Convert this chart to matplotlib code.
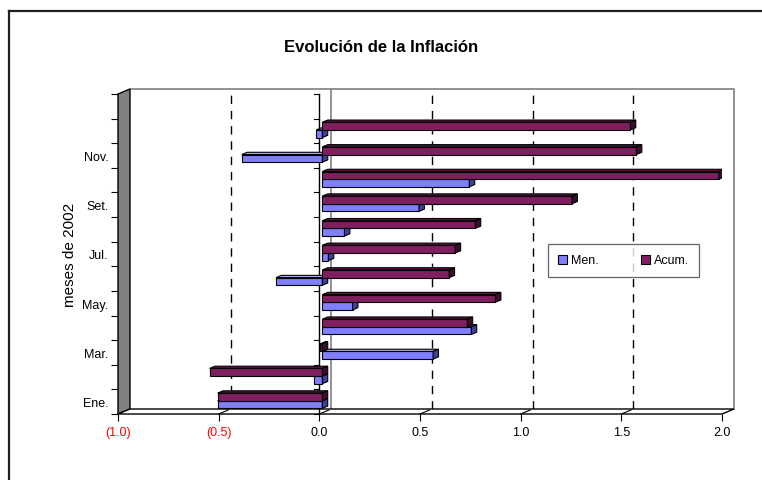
import matplotlib.pyplot as plt
from matplotlib.patches import Polygon, Patch
from matplotlib.lines import Line2D

plt.rcParams['font.family'] = ['Liberation Sans', 'DejaVu Sans']

# --- Datos ---
meses = ["Ene.", "Feb.", "Mar.", "Abr.", "May.", "Jun.", "Jul.", "Ago.", "Set.", "Oct.", "Nov.", "Dic."]
mensual = [-0.52, -0.04, 0.55, 0.74, 0.15, -0.23, 0.03, 0.11, 0.48, 0.73, -0.40, -0.03]
acumulada = [-0.52, -0.56, -0.01, 0.72, 0.86, 0.63, 0.66, 0.76, 1.24, 1.97, 1.56, 1.53]
xticks = [-1.0, -0.5, 0.0, 0.5, 1.0, 1.5, 2.0]
xticklabels = ["(1.0)", "(0.5)", "0.0", "0.5", "1.0", "1.5", "2.0"]
n_slots = len(meses) + 1  # una fila vacia arriba

c_men = ("#8080FF", "#A8A8F0", "#404098")    # frente, techo, lado
c_acum = ("#801F5F", "#5A1442", "#3C0C2C")

W, H = 762, 481
fig = plt.figure(figsize=(W / 100, H / 100), dpi=100)
ax = fig.add_axes([118 / W, (H - 415) / H, 604 / W, 320 / H])
ax.set_xlim(-1, 2)
ax.set_ylim(-0.5, n_slots - 0.5)
for s in ax.spines.values():
    s.set_visible(False)
ax.patch.set_visible(False)

# pixeles -> datos
px = 3 / 604
py = n_slots / 320
ddx, ddy = 12 * px, 5 * py          # profundidad del grafico
x0, x1 = -1, 2
y0, y1 = -0.5, n_slots - 0.5

# pared del fondo
ax.add_patch(Polygon([(x0 + ddx, y0 + ddy), (x1 + ddx, y0 + ddy), (x1 + ddx, y1 + ddy), (x0 + ddx, y1 + ddy)],
                     closed=True, facecolor="white", edgecolor="none", zorder=0, clip_on=False))
ax.plot([x0 + ddx, x1 + ddx, x1 + ddx], [y1 + ddy, y1 + ddy, y0 + ddy], color="#808080", lw=1.2,
        zorder=1, clip_on=False)
for xv in xticks[1:-1]:
    if xv == 0:
        ax.plot([xv + ddx, xv + ddx], [y0 + ddy, y1 + ddy], color="#808080", lw=1.2, zorder=1, clip_on=False)
    else:
        ax.plot([xv + ddx, xv + ddx], [y0 + ddy, y1 + ddy], color="black", lw=1.0, ls=(0, (6, 5)),
                zorder=1, clip_on=False)

# pared izquierda
ax.add_patch(Polygon([(x0, y0), (x0 + ddx, y0 + ddy), (x0 + ddx, y1 + ddy), (x0, y1)], closed=True,
                     facecolor="#808080", edgecolor="black", lw=1.0, zorder=2, clip_on=False))
# piso
ax.add_patch(Polygon([(x0, y0), (x1, y0), (x1 + ddx, y0 + ddy), (x0 + ddx, y0 + ddy)], closed=True,
                     facecolor="white", edgecolor="black", lw=1.0, zorder=2, clip_on=False))
for xv in xticks[1:-1]:
    ax.plot([xv, xv + 0.8 * ddx], [y0, y0 + 0.8 * ddy], color="black", lw=0.8, zorder=2, clip_on=False)

# eje de categorias en 0
ax.plot([0, 0], [y0, y1], color="black", lw=1.0, zorder=2.5, clip_on=False)
for k in range(n_slots + 1):
    ax.plot([0 - 5 * px, 0], [y0 + k, y0 + k], color="black", lw=0.8, zorder=2.5, clip_on=False)

# barras 3D
ox, oy = 0.25 * ddx, 0.25 * ddy
bdx, bdy = 0.45 * ddx, 0.45 * ddy
h = 0.31


def barra(v, yb, cols, z):
    a, b = min(0, v) + ox, max(0, v) + ox
    yb = yb + oy
    yt = yb + h
    ax.barh(yb + h / 2, b - a, left=a, height=h, color=cols[0], edgecolor="black", lw=0.8, zorder=z)
    ax.add_patch(Polygon([(a, yt), (b, yt), (b + bdx, yt + bdy), (a + bdx, yt + bdy)], closed=True,
                         facecolor=cols[1], edgecolor="black", lw=0.8, zorder=z))
    ax.add_patch(Polygon([(b, yb), (b + bdx, yb + bdy), (b + bdx, yt + bdy), (b, yt)], closed=True,
                         facecolor=cols[2], edgecolor="black", lw=0.8, zorder=z))


for i in range(len(meses)):
    barra(mensual[i], i - 0.32, c_men, 3 + 2 * (len(meses) - i))
    barra(acumulada[i], i - 0.01, c_acum, 4 + 2 * (len(meses) - i))

# ejes y etiquetas
ax.set_xticks(xticks)
ax.set_xticklabels(xticklabels, fontsize=9)
for lab, xv in zip(ax.get_xticklabels(), xticks):
    lab.set_color("#FF0000" if xv < 0 else "black")
ax.tick_params(axis="x", length=5, width=0.8, pad=4, direction="out")

ax.set_yticks(range(len(meses)))
ax.set_yticklabels([m if i % 2 == 0 else "" for i, m in enumerate(meses)], fontsize=9)
ax.set_yticks([y0 + k for k in range(n_slots + 1)], minor=True)
ax.tick_params(axis="y", which="major", length=0, pad=7)
ax.tick_params(axis="y", which="minor", length=5, width=0.8, direction="out")

fig.text(70 / W, 1 - 255 / H, "meses de 2002", rotation=90, ha="center", va="center", fontsize=11)
fig.text(381 / W, 1 - 48 / H, "Evolución de la Inflación", ha="center", va="center",
         fontsize=12, fontweight="bold")

handles = [Patch(facecolor=c_men[0], edgecolor="black", lw=0.8, label="Men."),
           Patch(facecolor=c_acum[0], edgecolor="black", lw=0.8, label="Acum.")]
leg = fig.legend(handles=handles, loc="center", bbox_to_anchor=(623.5 / W, 1 - 261.5 / H), ncol=2,
                 fontsize=9, frameon=True, fancybox=False, edgecolor="#404040", handlelength=0.7,
                 handleheight=0.7, handletextpad=0.3, columnspacing=3.4, borderpad=0.85,
                 borderaxespad=0)
leg.get_frame().set_linewidth(0.9)

# marco exterior
fig.add_artist(Line2D([9 / W, 9 / W], [0, 1 - 12 / H], color="#202020", lw=1.6))
fig.add_artist(Line2D([9 / W, 1], [1 - 12 / H, 1 - 12 / H], color="#202020", lw=1.6))

fig.savefig("out.png", dpi=100)
